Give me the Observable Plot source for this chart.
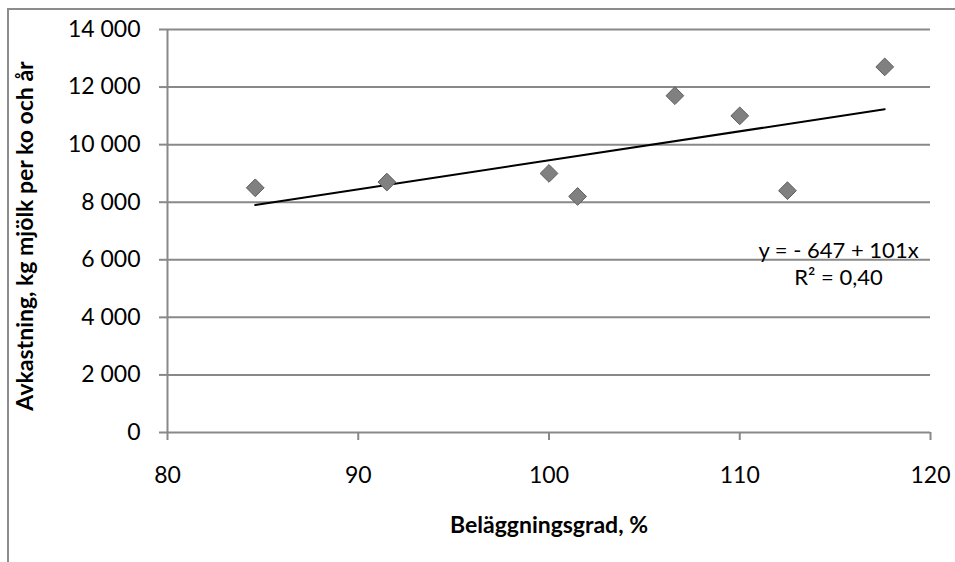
<!DOCTYPE html>
<html><head><meta charset="utf-8">
<script src="https://cdn.jsdelivr.net/npm/d3@7"></script>
<script src="https://cdn.jsdelivr.net/npm/@observablehq/plot@0.6"></script>
<style>
html,body{margin:0;padding:0;background:#fff;}
#wrap{position:relative;width:955px;height:562px;overflow:hidden;}
#frame{position:absolute;left:7px;top:8px;width:1000px;height:1000px;border-top:2px solid #8c8c8c;border-left:2px solid #8c8c8c;}
#chart{position:absolute;left:0;top:0;}
</style></head>
<body><div id="wrap"><div id="frame"></div><div id="chart"></div></div>
<script>
const occupancy = [84.6, 91.5, 100, 101.5, 106.6, 110, 112.5, 117.6];
const milkYield = [8500, 8700, 9000, 8200, 11700, 11000, 8400, 12700];
const trendX = [84.6, 117.6];
const trendY = [7900, 11230];
const xTicks = [80, 90, 100, 110, 120];
const yTicks = [0, 2000, 4000, 6000, 8000, 10000, 12000, 14000];
const xLabel = "Beläggningsgrad, %";
const yLabel = "Avkastning, kg mjölk per ko och år";
const eqLines = ["y = - 647 + 101x", "R² = 0,40"];

const points = occupancy.map((x, i) => ({x, y: milkYield[i]}));
const trend = trendX.map((x, i) => ({x, y: trendY[i]}));
const fmt = d3.formatLocale({thousands: "\u00a0", grouping: [3], decimal: ","}).format(",");
const font = "Lato, 'Open Sans', sans-serif";
const gray = "#898989";

const chart = Plot.plot({
  width: 955, height: 562,
  marginLeft: 167, marginRight: 25, marginTop: 29, marginBottom: 130,
  style: {fontFamily: font, fontSize: "23px", color: "#000", background: "transparent"},
  x: {domain: [80, 120]},
  y: {domain: [0, 14000]},
  marks: [
    Plot.ruleY(yTicks, {stroke: gray, strokeWidth: 2, strokeOpacity: 1}),
    Plot.ruleX([80], {stroke: gray, strokeWidth: 2, y1: 0, y2: 14000}),
    Plot.axisY({ticks: yTicks, tickFormat: fmt, tickSize: 8, tickPadding: 19, stroke: gray, strokeWidth: 2, strokeOpacity: 1, fontSize: 23, label: null}),
    Plot.axisX({ticks: xTicks, tickSize: 8, tickPadding: 26, stroke: gray, strokeWidth: 2, strokeOpacity: 1, fontSize: 23, label: null}),
    Plot.line(trend, {x: "x", y: "y", stroke: "#000", strokeWidth: 2}),
    Plot.dot(points, {x: "x", y: "y", symbol: "diamond2", r: 8, fill: "#808080", stroke: "#5e5e5e", strokeWidth: 1}),
    Plot.text([eqLines.join("\n")], {frameAnchor: "right", dx: -92, dy: 32, text: d => d, textAnchor: "middle", lineHeight: 1.2, fontSize: 22}),
    Plot.text([xLabel], {frameAnchor: "bottom", dy: 100, text: d => d, textAnchor: "middle", fontWeight: "bold", fontSize: 23}),
    Plot.text([yLabel], {frameAnchor: "left", dx: -142, dy: 5, rotate: -90, text: d => d, textAnchor: "middle", fontWeight: "bold", fontSize: 23})
  ]
});
document.getElementById("chart").appendChild(chart);
</script></body></html>
